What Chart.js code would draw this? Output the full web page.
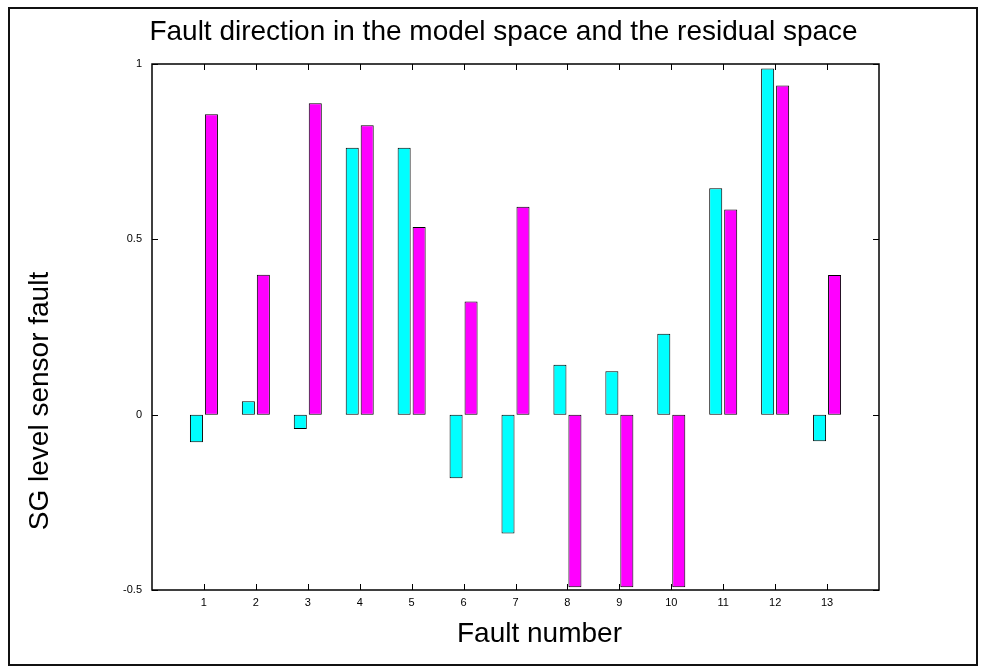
<!DOCTYPE html>
<html>
<head>
<meta charset="utf-8">
<script src="https://cdn.jsdelivr.net/npm/chart.js@4/dist/chart.umd.min.js"></script>
<style>
html,body{margin:0;padding:0;background:#fff;}
#wrap{width:982px;height:671px;position:relative;}
</style>
</head>
<body>
<div id="wrap"><canvas id="c" width="982" height="671"></canvas></div>
<script>
// ---- data ----
const faultNumbers = [1, 2, 3, 4, 5, 6, 7, 8, 9, 10, 11, 12, 13];
const modelSpace    = [-0.079, 0.038, -0.041, 0.761, 0.761, -0.181, -0.339, 0.142, 0.124, 0.231, 0.646, 0.987, -0.076];
const residualSpace = [0.857, 0.399, 0.888, 0.825, 0.535, 0.323, 0.593, -0.492, -0.492, -0.492, 0.585, 0.939, 0.398];
const yTickValues = [-0.5, 0, 0.5, 1];
const yTickLabels = ['-0.5', '0', '0.5', '1'];
const chartTitle = 'Fault direction in the model space and the residual space';
const xTitle = 'Fault number';
const yTitle = 'SG level sensor fault';

const FONT = "'Liberation Sans', Arial, Helvetica, sans-serif";
Chart.defaults.font.family = FONT;
Chart.defaults.color = '#000';

const axesFrame = {
  id: 'axesFrame',
  beforeDraw(chart) {
    const ctx = chart.ctx;
    ctx.save();
    ctx.fillStyle = '#fff';
    ctx.fillRect(0, 0, chart.width, chart.height);
    ctx.strokeStyle = '#111';
    ctx.lineWidth = 2;
    ctx.strokeRect(9, 8, 968, 657);
    ctx.restore();
  },
  afterDatasetsDraw(chart) {
    const {ctx, chartArea: {left, right, top, bottom}, scales: {x, y}} = chart;
    ctx.save();
    ctx.strokeStyle = '#000';
    ctx.lineWidth = 1;
    const tl = 6;
    ctx.beginPath();
    x.ticks.forEach(t => {
      if (!faultNumbers.includes(t.value)) return;
      const px = Math.round(x.getPixelForValue(t.value)) + 0.5;
      ctx.moveTo(px, bottom); ctx.lineTo(px, bottom - tl);
      ctx.moveTo(px, top); ctx.lineTo(px, top + tl);
    });
    y.ticks.forEach(t => {
      const py = Math.round(y.getPixelForValue(t.value)) + 0.5;
      ctx.moveTo(left, py); ctx.lineTo(left + tl, py);
      ctx.moveTo(right, py); ctx.lineTo(right - tl, py);
    });
    ctx.stroke();
    ctx.lineWidth = 1.5;
    ctx.strokeRect(left, top, right - left, bottom - top);

    // title and axis labels
    ctx.fillStyle = '#000';
    ctx.font = "28px " + FONT;
    ctx.textAlign = 'center';
    ctx.textBaseline = 'middle';
    const cx = (left + right) / 2;
    ctx.fillText(chartTitle, cx - 12, top - 32);
    ctx.fillText(xTitle, cx + 24, bottom + 44);
    ctx.save();
    ctx.translate(left - 112, (top + bottom) / 2 + 74);
    ctx.rotate(-Math.PI / 2);
    ctx.fillText(yTitle, 0, 0);
    ctx.restore();
    ctx.restore();
  }
};

new Chart(document.getElementById('c'), {
  type: 'bar',
  data: {
    datasets: [
      {
        label: 'Model space',
        data: faultNumbers.map((f, i) => ({x: f, y: modelSpace[i]})),
        backgroundColor: '#00ffff',
        borderColor: '#000',
        borderWidth: 1,
        borderSkipped: false
      },
      {
        label: 'Residual space',
        data: faultNumbers.map((f, i) => ({x: f, y: residualSpace[i]})),
        backgroundColor: '#ff00ff',
        borderColor: '#000',
        borderWidth: 1,
        borderSkipped: false
      }
    ]
  },
  options: {
    responsive: false,
    animation: false,
    devicePixelRatio: 1,
    datasets: { bar: { categoryPercentage: 0.577, barPercentage: 0.87 } },
    layout: { padding: { left: 0, right: 103, top: 64, bottom: 0 } },
    plugins: {
      legend: { display: false },
      tooltip: { enabled: false },
      title: { display: false }
    },
    scales: {
      x: {
        type: 'linear',
        min: 0,
        max: 14,
        offset: false,
        grid: { display: false, drawTicks: false },
        border: { display: false },
        ticks: {
          stepSize: 1,
          autoSkip: false,
          maxRotation: 0,
          padding: 6,
          color: '#000',
          font: { size: 11 },
          callback: v => faultNumbers.includes(v) ? String(v) : ''
        },
        title: { display: false, text: xTitle },
        afterFit: s => { s.height = 81; }
      },
      y: {
        min: -0.5,
        max: 1,
        grid: { display: false, drawTicks: false },
        border: { display: false },
        afterBuildTicks: s => { s.ticks = yTickValues.map(v => ({value: v})); },
        ticks: {
          padding: 10,
          color: '#000',
          font: { size: 11 },
          callback: v => yTickLabels[yTickValues.indexOf(v)]
        },
        title: { display: false, text: yTitle },
        afterFit: s => { s.width = 152; }
      }
    }
  },
  plugins: [axesFrame]
});
</script>
</body>
</html>
